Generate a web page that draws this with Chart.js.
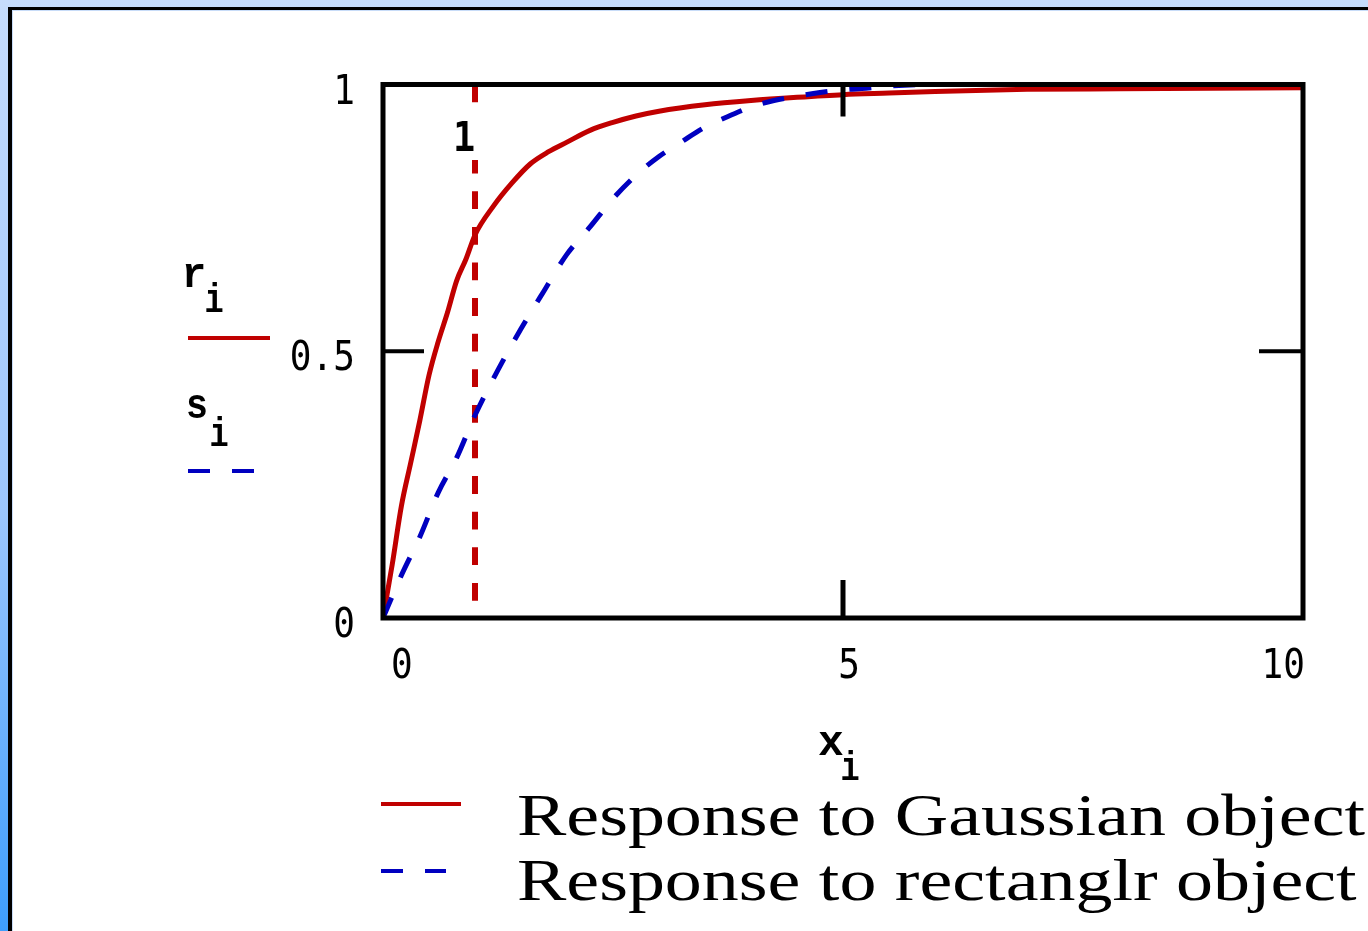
<!DOCTYPE html>
<html>
<head>
<meta charset="utf-8">
<script src="https://cdn.jsdelivr.net/npm/chart.js@4.4.1/dist/chart.umd.min.js"></script>
<style>
  html, body { margin: 0; padding: 0; }
  body {
    width: 1368px; height: 931px; overflow: hidden; position: relative;
    background: linear-gradient(to bottom, #c6dcfc 0%, #9cc6fc 55%, #3e9efc 100%);
  }
  #panel {
    position: absolute; left: 8px; top: 7px; right: 0; bottom: 0;
    background: #fff;
    border-left: 4px solid #000; border-top: 3px solid #000;
    box-shadow: inset 1px 1px 0 #c8dcf8;
  }
  #plot { position: absolute; left: 0; top: 0; }
</style>
</head>
<body>
<div id="panel"></div>
<canvas id="plot" width="1368" height="931"></canvas>
<script>
// axis ticks
const xTicks = [0, 5, 10];
const xTickLabels = ['0', '5', '10'];
const yTicks = [0, 0.5, 1];
const yTickLabels = ['0', '0.5', '1'];

// r_i : response to Gaussian object
const gaussX = [0, 0.05, 0.1, 0.2, 0.3, 0.4, 0.5, 0.6, 0.7, 0.8, 0.9, 1.0, 1.2, 1.4, 1.6, 1.8,
  2.0, 2.25, 2.5, 2.75, 3.0, 3.5, 4.0, 4.5, 5.0, 5.5, 6.0, 7.0, 8.0, 9.0, 10.0];
const gaussY = [0, 0.05, 0.10, 0.21, 0.29, 0.37, 0.455, 0.518, 0.572, 0.632, 0.672, 0.718, 0.772,
  0.815, 0.851, 0.874, 0.892, 0.914, 0.929, 0.941, 0.950, 0.962, 0.970, 0.976, 0.981, 0.984,
  0.987, 0.991, 0.992, 0.993, 0.994];

// s_i : response to rectangular object
const rectX = [0, 0.2, 0.4, 0.6, 0.8, 1.0, 1.25, 1.5, 1.75, 2.0, 2.25, 2.5, 2.75, 3.0, 3.25,
  3.5, 3.75, 4.0, 4.25, 4.5, 4.75, 5.0, 5.25, 5.5, 6.0, 7.0, 8.0, 9.0, 10.0];
const rectY = [0, 0.08, 0.152, 0.235, 0.30, 0.38, 0.465, 0.542, 0.613, 0.682, 0.733, 0.786,
  0.83, 0.865, 0.893, 0.92, 0.94, 0.958, 0.970, 0.978, 0.985, 0.99, 0.993, 0.997, 1, 1, 1, 1, 1];

// vertical marker
const markerX = 1;
const markerLabel = '1';

const yVarName = ['r', 's'];
const xVarName = 'x';
const legendLabels = ['Response to Gaussian object', 'Response to rectanglr object'];

const RED = '#c00000';
const BLUE = '#0000c0';
const TICK_FONT = '41px "DejaVu Sans Mono"';
const VAR_FONT = 'bold 43px "Liberation Mono"';
const SUB_FONT = 'bold 40px "Liberation Mono"';

function text(ctx, s, x, y, font, align, sx) {
  ctx.save();
  ctx.font = font;
  ctx.textAlign = align;
  ctx.textBaseline = 'alphabetic';
  ctx.fillStyle = '#000';
  ctx.translate(x, y);
  ctx.scale(sx || 1, 1);
  ctx.fillText(s, 0, 0);
  ctx.restore();
}

function hLine(ctx, x1, x2, y, color, dash) {
  ctx.save();
  ctx.strokeStyle = color;
  ctx.lineWidth = 4;
  ctx.setLineDash(dash || []);
  ctx.beginPath();
  ctx.moveTo(x1, y);
  ctx.lineTo(x2, y);
  ctx.stroke();
  ctx.restore();
}

const overlay = {
  id: 'overlay',
  afterDatasetsDraw(chart) {
    const { ctx, chartArea: a, scales: { x, y } } = chart;
    ctx.save();
    ctx.strokeStyle = '#000';
    ctx.lineWidth = 5;
    ctx.strokeRect(a.left, a.top, a.right - a.left, a.bottom - a.top);

    // inner tick marks at the middle values
    ctx.lineWidth = 4;
    const ym = y.getPixelForValue(yTicks[1]);
    ctx.beginPath();
    ctx.moveTo(a.left, ym); ctx.lineTo(a.left + 41, ym);
    ctx.moveTo(a.right, ym); ctx.lineTo(a.right - 44, ym);
    ctx.stroke();
    ctx.lineWidth = 5;
    const xm = x.getPixelForValue(xTicks[1]);
    ctx.beginPath();
    ctx.moveTo(xm, a.top); ctx.lineTo(xm, a.top + 32);
    ctx.moveTo(xm, a.bottom); ctx.lineTo(xm, a.bottom - 38);
    ctx.stroke();

    // marker label with opaque box
    const mx = x.getPixelForValue(markerX);
    ctx.fillStyle = '#fff';
    ctx.fillRect(mx - 26, 103, 31, 57);
    text(ctx, markerLabel, mx - 11, 151, 'bold ' + TICK_FONT, 'center', 0.9);

    // tick labels
    yTicks.forEach((v, i) => {
      text(ctx, yTickLabels[i], 355, y.getPixelForValue(v) + 19, TICK_FONT, 'right', 0.88);
    });
    xTicks.forEach((v, i) => {
      const px = x.getPixelForValue(v);
      if (i === 0) text(ctx, xTickLabels[i], px + 8, 678, TICK_FONT, 'left', 0.88);
      else if (i === xTicks.length - 1) text(ctx, xTickLabels[i], px + 2, 678, TICK_FONT, 'right', 0.88);
      else text(ctx, xTickLabels[i], px + 6, 678, TICK_FONT, 'center', 0.88);
    });

    // variable names with subscripts
    text(ctx, yVarName[0], 194, 287, VAR_FONT, 'center', 0.95);
    text(ctx, 'i', 214, 312, SUB_FONT, 'center', 0.8);
    hLine(ctx, 188, 270, 338, RED);
    text(ctx, yVarName[1], 197, 418, VAR_FONT, 'center', 0.85);
    text(ctx, 'i', 219, 446, SUB_FONT, 'center', 0.8);
    hLine(ctx, 188, 254, 471, BLUE, [22, 22]);
    text(ctx, xVarName, 831, 755, VAR_FONT, 'center', 1.0);
    text(ctx, 'i', 850, 780, SUB_FONT, 'center', 0.8);

    // legend
    hLine(ctx, 381, 461, 804, RED);
    hLine(ctx, 381, 446, 871, BLUE, [22, 22]);
    ctx.font = '60px "Liberation Serif"';
    const sx = 848 / ctx.measureText(legendLabels[0]).width;
    text(ctx, legendLabels[0], 517, 835, '60px "Liberation Serif"', 'left', sx);
    text(ctx, legendLabels[1], 517, 900, '60px "Liberation Serif"', 'left', sx);
    ctx.restore();
  }
};

const toPoints = (xs, ys) => xs.map((v, i) => ({ x: v, y: ys[i] }));

new Chart(document.getElementById('plot'), {
  type: 'line',
  data: {
    datasets: [
      {
        label: 'marker',
        data: [{ x: markerX, y: 1 }, { x: markerX, y: 0 }],
        borderColor: RED,
        borderWidth: 6,
        borderDash: [17.8, 17.8],
        pointRadius: 0,
        order: 3,
      },
      {
        label: legendLabels[0],
        data: toPoints(gaussX, gaussY),
        borderColor: RED,
        borderWidth: 5,
        cubicInterpolationMode: 'monotone',
        pointRadius: 0,
        order: 2,
      },
      {
        label: legendLabels[1],
        data: toPoints(rectX, rectY),
        borderColor: BLUE,
        borderWidth: 5,
        borderDash: [22, 22],
        cubicInterpolationMode: 'monotone',
        pointRadius: 0,
        order: 1,
      },
    ]
  },
  options: {
    responsive: false,
    animation: false,
    devicePixelRatio: 1,
    layout: { padding: { left: 383, right: 65, top: 84.5, bottom: 313 } },
    plugins: { legend: { display: false }, tooltip: { enabled: false } },
    scales: {
      x: { type: 'linear', min: 0, max: 10, display: false },
      y: { type: 'linear', min: 0, max: 1, display: false },
    }
  },
  plugins: [overlay]
});
</script>
</body>
</html>
